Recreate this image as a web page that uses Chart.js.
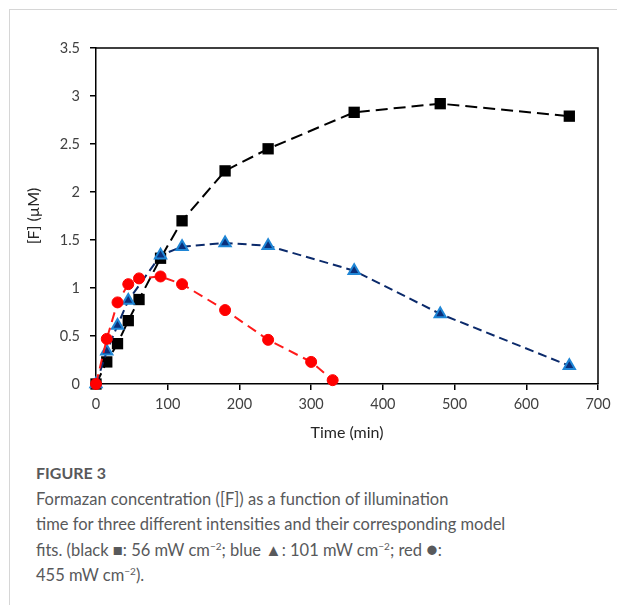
<!DOCTYPE html>
<html>
<head>
<meta charset="utf-8">
<script src="https://cdn.jsdelivr.net/npm/chart.js@4/dist/chart.umd.min.js"></script>
<style>
  html, body { margin:0; padding:0; background:#fff; }
  body { width:617px; height:605px; position:relative; overflow:hidden; }
  #frameTop { position:absolute; left:9px; top:9px; width:608px; height:1px; background:#d6d6d6; }
  #frameLeft { position:absolute; left:9px; top:9px; width:1px; height:596px; background:#d6d6d6; }
  #wrap { position:absolute; left:0; top:0; width:617px; height:450px; }
  #caption { position:absolute; left:36px; top:460px; width:575px; font-family:"Lato", sans-serif; color:#58595b; font-size:16.5px; line-height:25.5px; }
  #caption .fig { font-weight:700; font-size:16px; margin-bottom:1px; }
  sup { font-size:10px; line-height:0; vertical-align:6px; }
  .dot { font-size:19px; line-height:0; }
</style>
</head>
<body>
<div id="frameTop"></div>
<div id="frameLeft"></div>
<div id="wrap"><canvas id="c" width="617" height="450"></canvas></div>
<div id="caption">
  <div class="fig">FIGURE 3</div>
  <div>Formazan concentration ([F]) as a function of illumination<br>time for three different intensities and their corresponding model<br>fits. (black &#9632;: 56 mW cm<sup>&minus;2</sup>; blue &#9650;: 101 mW cm<sup>&minus;2</sup>; red <span class="dot">&#9679;</span>:<br>455 mW cm<sup>&minus;2</sup>).</div>
</div>
<script>
// Data
const blackTime = [0, 15, 30, 45, 60, 90, 120, 180, 240, 360, 480, 660];
const blackF    = [0, 0.23, 0.42, 0.66, 0.88, 1.31, 1.70, 2.22, 2.45, 2.83, 2.92, 2.79];
const blueTime  = [0, 15, 30, 45, 90, 120, 180, 240, 360, 480, 660];
const blueF     = [0, 0.34, 0.61, 0.87, 1.34, 1.43, 1.47, 1.44, 1.18, 0.73, 0.19];
const redTime   = [0, 15, 30, 45, 60, 90, 120, 180, 240, 300, 330];
const redF      = [0, 0.47, 0.85, 1.04, 1.10, 1.12, 1.04, 0.77, 0.46, 0.23, 0.04];
const xTicks = [0, 100, 200, 300, 400, 500, 600, 700];
const yTicks = [0, 0.5, 1, 1.5, 2, 2.5, 3, 3.5];

const pts = (xs, ys) => xs.map((x, i) => ({x: x, y: ys[i]}));

const boxPlugin = {
  id: 'box',
  afterDraw(chart) {
    const {ctx, chartArea: a} = chart;
    ctx.save();
    ctx.strokeStyle = '#000';
    ctx.lineWidth = 1.5;
    ctx.beginPath();
    ctx.moveTo(a.left, a.top); ctx.lineTo(a.right, a.top); ctx.lineTo(a.right, a.bottom);
    ctx.stroke();
    ctx.restore();
  }
};

const tickFont = {family: 'Lato, sans-serif', size: 14.5};

new Chart(document.getElementById('c'), {
  type: 'line',
  data: {
    datasets: [
      {
        label: 'red', data: pts(redTime, redF),
        borderColor: '#ff1a1a', borderWidth: 2, borderDash: [10, 6],
        pointStyle: 'circle', pointRadius: 5.5, pointBackgroundColor: '#ff0000', pointBorderColor: '#ff0000', pointBorderWidth: 1,
        tension: 0, clip: false
      },
      {
        label: 'blue', data: pts(blueTime, blueF),
        borderColor: '#0b2a6b', borderWidth: 2, borderDash: [9, 5],
        pointStyle: 'triangle', pointRadius: 6.5, pointBackgroundColor: '#0b2f7a', pointBorderColor: '#1f86d6', pointBorderWidth: 2,
        tension: 0, clip: false
      },
      {
        label: 'black', data: pts(blackTime, blackF),
        borderColor: '#000', borderWidth: 2, borderDash: [12, 6],
        pointStyle: 'rect', pointRadius: 8, pointBackgroundColor: '#000', pointBorderColor: '#000', pointBorderWidth: 0,
        tension: 0, clip: false
      }
    ]
  },
  options: {
    responsive: false,
    animation: false,
    events: [],
    layout: { padding: { left: 0, top: 48, right: 19, bottom: 0 } },
    plugins: { legend: { display: false }, tooltip: { enabled: false } },
    scales: {
      x: {
        type: 'linear', min: 0, max: 700,
        afterBuildTicks: s => { s.ticks = xTicks.map(v => ({value: v})); },
        afterFit: s => { s.height = 66; },
        grid: { drawOnChartArea: false, drawTicks: true, tickLength: 6, color: '#000', lineWidth: 1.5 },
        border: { display: true, color: '#000', width: 1.5 },
        ticks: { color: '#404040', font: tickFont, padding: 6, maxRotation: 0 },
        title: { display: true, text: 'Time (min)', color: '#262626', font: {family: 'Lato, sans-serif', size: 16}, padding: { top: 0, bottom: 8 } }
      },
      y: {
        type: 'linear', min: 0, max: 3.5,
        afterBuildTicks: s => { s.ticks = yTicks.map(v => ({value: v})); },
        afterFit: s => { s.width = 96; },
        grid: { drawOnChartArea: false, drawTicks: true, tickLength: 6, color: '#000', lineWidth: 1.5 },
        border: { display: true, color: '#000', width: 1.5 },
        ticks: { color: '#404040', font: tickFont, padding: 10, callback: v => String(v) },
        title: { display: true, text: '[F] (\u00b5M)', color: '#262626', font: {family: 'Lato, sans-serif', size: 16}, padding: { top: 24, bottom: 0 } }
      }
    }
  },
  plugins: [boxPlugin]
});
</script>
</body>
</html>
